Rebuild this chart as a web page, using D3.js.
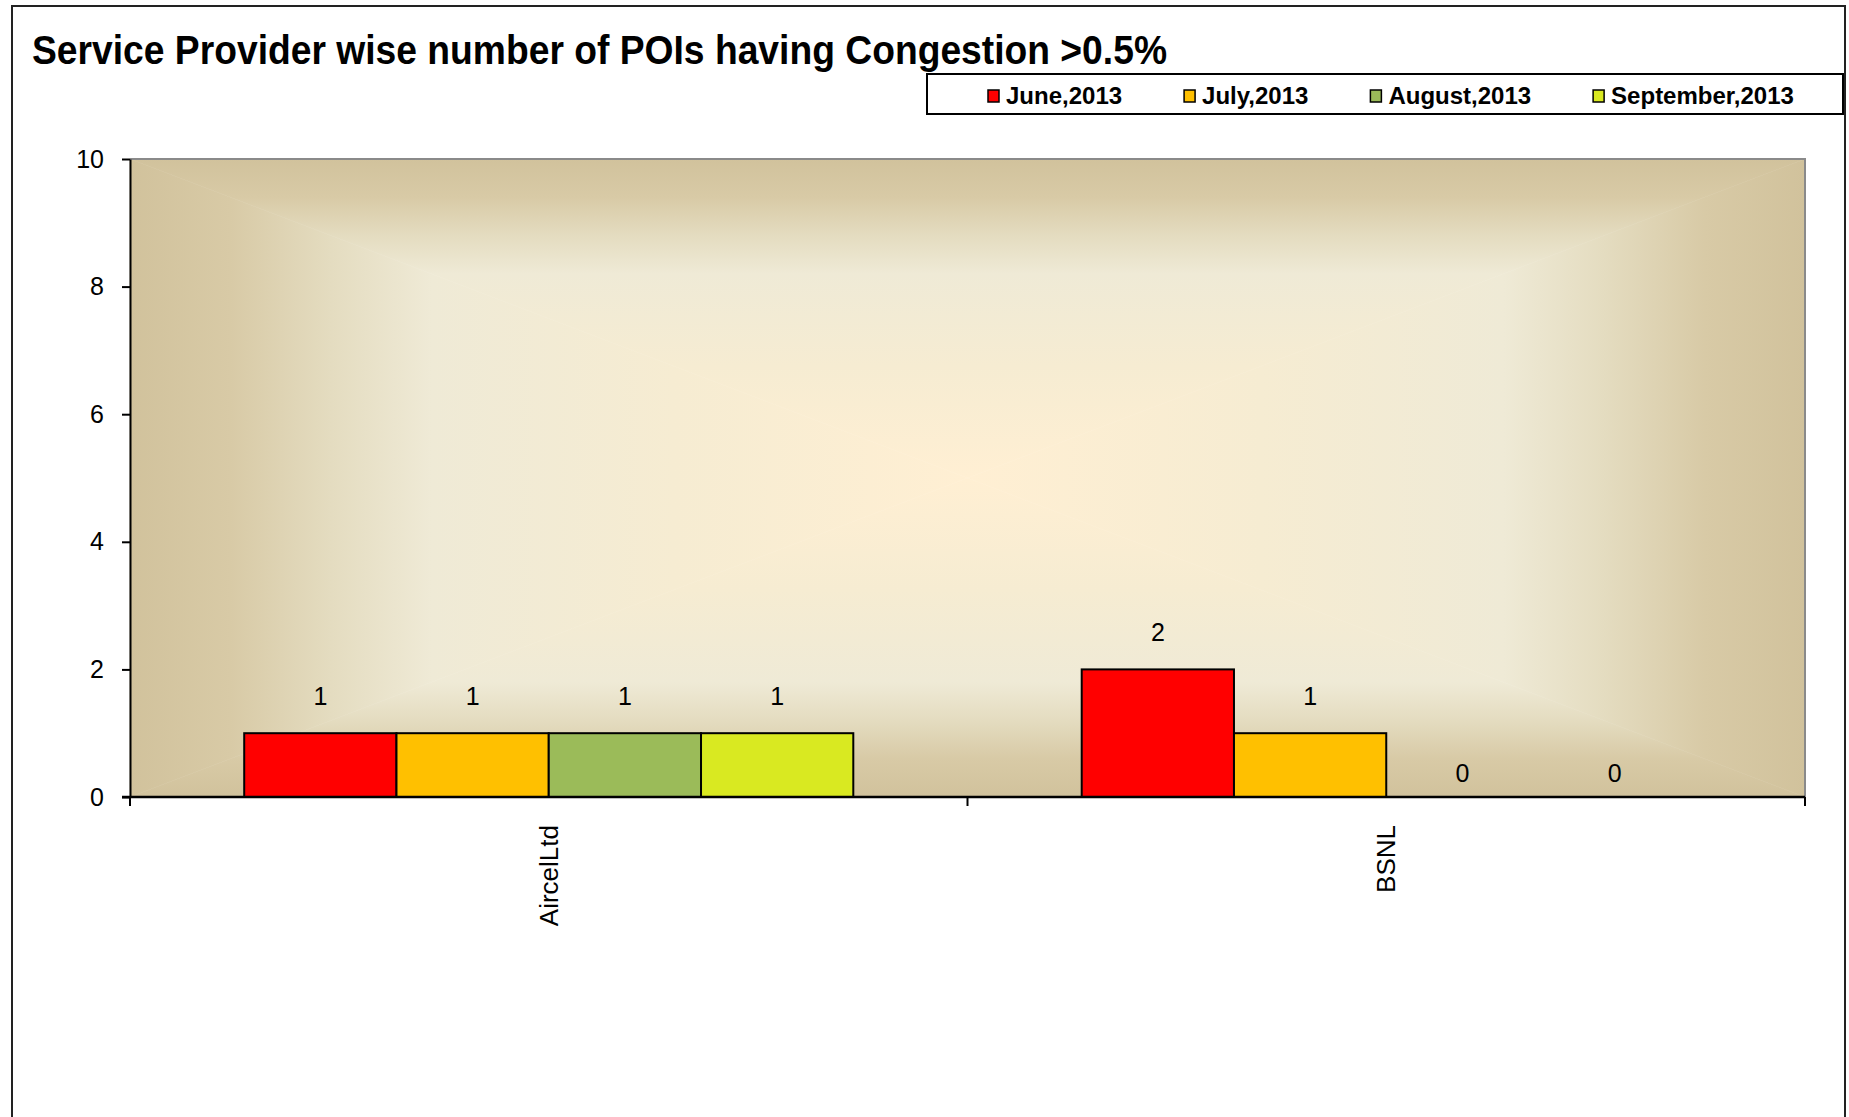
<!DOCTYPE html>
<html>
<head>
<meta charset="utf-8">
<script src="https://cdn.jsdelivr.net/npm/d3@7"></script>
<style>
body { margin: 0; background: #fff; }
text { font-family: "Liberation Sans", Arial, sans-serif; fill: #000; }
</style>
</head>
<body>
<div class="main"></div>
<script>
// data
var categories = ["AircelLtd", "BSNL"];
var seriesNames = ["June,2013", "July,2013", "August,2013", "September,2013"];
var seriesColors = ["#FF0000", "#FFC000", "#9BBB59", "#D9E921"];
var june = [1, 2];
var july = [1, 1];
var august = [1, 0];
var september = [1, 0];
var yTicks = [0, 2, 4, 6, 8, 10];

var seriesValues = [june, july, august, september];

var W = 1849, H = 1117;
var margin = {top: 159, right: 44, bottom: 320, left: 130};
var plotW = W - margin.left - margin.right,
    plotH = H - margin.top - margin.bottom;

var svg = d3.select(".main").append("svg")
  .attr("width", W)
  .attr("height", H);

// outer chart border
svg.append("rect")
  .attr("x", 12).attr("y", 6)
  .attr("width", W - 16).attr("height", H + 20)
  .style("fill", "none")
  .style("stroke", "#222")
  .style("stroke-width", 2);

// title
svg.append("text")
  .attr("x", 32)
  .attr("y", 64)
  .attr("textLength", 1135)
  .attr("lengthAdjust", "spacingAndGlyphs")
  .style("font-size", "41px")
  .style("font-weight", "bold")
  .text("Service Provider wise  number of POIs having Congestion >0.5%");

var g = svg.append("g")
  .attr("transform", "translate(" + margin.left + "," + margin.top + ")");

// scales
var x0 = d3.scaleBand()
  .domain(categories)
  .range([0, plotW]);

var x1 = d3.scaleBand()
  .domain(seriesNames)
  .range([0, x0.bandwidth()])
  .paddingInner(0)
  .paddingOuter(0.75);

var y = d3.scaleLinear()
  .domain([0, 10])
  .range([plotH, 0]);

// plot background: rectangular gradient from the centre
var defs = svg.append("defs");
var stops = [[0, "#D1C29C"], [0.12, "#D8CAA6"], [0.24, "#E4DCC0"], [0.36, "#EFEAD6"], [0.65, "#F6ECD2"], [1, "#FFEFD3"]];
function grad(id, xa, ya, xb, yb) {
  var lg = defs.append("linearGradient")
    .attr("id", id)
    .attr("gradientUnits", "userSpaceOnUse")
    .attr("x1", xa).attr("y1", ya).attr("x2", xb).attr("y2", yb);
  stops.forEach(function(s) {
    lg.append("stop").attr("offset", s[0]).attr("stop-color", s[1]);
  });
}
var cx = plotW / 2, cy = plotH / 2;
grad("gTop", 0, 0, 0, cy);
grad("gBot", 0, plotH, 0, cy);
grad("gLeft", 0, 0, cx, 0);
grad("gRight", plotW, 0, cx, 0);

var tris = [
  {id: "gTop", pts: [[0, 0], [plotW, 0], [cx, cy]]},
  {id: "gBot", pts: [[0, plotH], [plotW, plotH], [cx, cy]]},
  {id: "gLeft", pts: [[0, 0], [0, plotH], [cx, cy]]},
  {id: "gRight", pts: [[plotW, 0], [plotW, plotH], [cx, cy]]}
];
g.selectAll(".bgtri")
  .data(tris)
  .enter().append("polygon")
  .attr("class", "bgtri")
  .attr("points", function(d) { return d.pts.map(function(p) { return p.join(","); }).join(" "); })
  .style("fill", function(d) { return "url(#" + d.id + ")"; })
  .style("stroke", function(d) { return "url(#" + d.id + ")"; })
  .style("stroke-width", 0.6);

// plot frame top & right
g.append("path")
  .attr("d", "M0,0H" + plotW + "V" + plotH)
  .style("fill", "none")
  .style("stroke", "#8a8a8a")
  .style("stroke-width", 2);

// bars
var groups = g.selectAll(".grp")
  .data(categories)
  .enter().append("g")
  .attr("class", "grp")
  .attr("transform", function(d) { return "translate(" + x0(d) + ",0)"; });

groups.selectAll("rect")
  .data(function(d, i) {
    return seriesNames.map(function(s, j) {
      return {series: s, value: seriesValues[j][i], color: seriesColors[j]};
    });
  })
  .enter().append("rect")
  .attr("x", function(d) { return x1(d.series); })
  .attr("y", function(d) { return y(d.value); })
  .attr("width", x1.bandwidth())
  .attr("height", function(d) { return plotH - y(d.value); })
  .style("fill", function(d) { return d.color; })
  .style("stroke", function(d) { return d.value > 0 ? "#000" : "none"; })
  .style("stroke-width", 2);

// data labels
groups.selectAll(".lbl")
  .data(function(d, i) {
    return seriesNames.map(function(s, j) {
      return {series: s, value: seriesValues[j][i]};
    });
  })
  .enter().append("text")
  .attr("class", "lbl")
  .attr("x", function(d) { return x1(d.series) + x1.bandwidth() / 2; })
  .attr("y", function(d) { return y(d.value) - (d.value > 0 ? 37 : 24); })
  .attr("dy", "0.35em")
  .style("text-anchor", "middle")
  .style("font-size", "25px")
  .text(function(d) { return d.value; });

// y axis
var yAxis = d3.axisLeft(y)
  .tickValues(yTicks)
  .tickSize(8)
  .tickSizeOuter(0)
  .tickPadding(18);

var ya = g.append("g")
  .attr("class", "y axis")
  .call(yAxis);
ya.selectAll("path, line").style("stroke", "#000").style("stroke-width", 2);
ya.selectAll("text")
  .style("font-size", "25px")
  .style("font-family", "'Liberation Sans', Arial, sans-serif")
  .style("fill", "#000");

// x axis: line, boundary ticks, rotated category labels
var bounds = categories.map(function(c) { return x0(c); }).concat([x0.range()[1]]);
var xa = g.append("g")
  .attr("class", "x axis")
  .attr("transform", "translate(0," + plotH + ")");
xa.append("line")
  .attr("x1", -8).attr("x2", plotW)
  .style("stroke", "#000").style("stroke-width", 2.5);
xa.selectAll(".tk")
  .data(bounds)
  .enter().append("line")
  .attr("class", "tk")
  .attr("x1", function(d) { return d; })
  .attr("x2", function(d) { return d; })
  .attr("y1", 0).attr("y2", 9)
  .style("stroke", "#000").style("stroke-width", 2);
xa.selectAll(".cat")
  .data(categories)
  .enter().append("text")
  .attr("class", "cat")
  .attr("transform", function(d) {
    return "translate(" + (x0(d) + x0.bandwidth() / 2) + ",28) rotate(-90)";
  })
  .attr("dy", "0.35em")
  .style("text-anchor", "end")
  .style("font-size", "26px")
  .text(function(d) { return d; });

// legend
var legend = svg.append("g").attr("class", "legend");
legend.append("rect")
  .attr("x", 927).attr("y", 74)
  .attr("width", 916).attr("height", 40)
  .style("fill", "#fff")
  .style("stroke", "#000")
  .style("stroke-width", 2);

var lx = 988;
seriesNames.forEach(function(s, i) {
  var item = legend.append("g").attr("transform", "translate(" + lx + ",96)");
  item.append("rect")
    .attr("x", 0).attr("y", -6)
    .attr("width", 11).attr("height", 12)
    .style("fill", seriesColors[i])
    .style("stroke", "#000")
    .style("stroke-width", 1.5);
  var t = item.append("text")
    .attr("x", 18)
    .attr("dy", "0.35em")
    .style("font-size", "24px")
    .style("font-weight", "bold")
    .text(s);
  lx += 18 + t.node().getComputedTextLength() + 62;
});
</script>
</body>
</html>
